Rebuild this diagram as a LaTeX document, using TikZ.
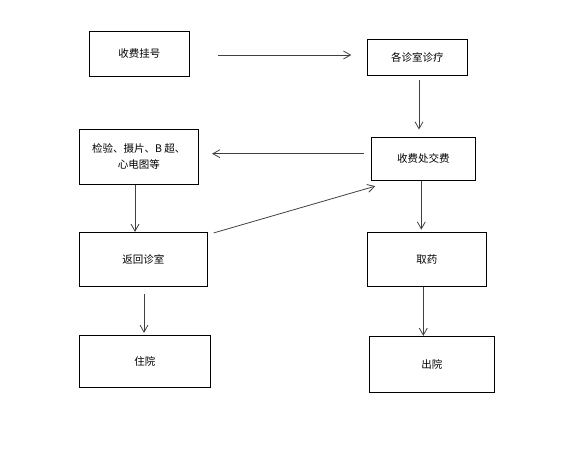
\documentclass[tikz,border=0pt]{standalone}
\usepackage{fontspec}
\newfontfamily\cjk{Noto Sans CJK SC}
\usetikzlibrary{arrows.meta}
\tikzset{
  stepbox/.style={draw=black, line width=0.9pt, inner sep=0pt, font=\cjk\fontsize{10.5}{16.4}\selectfont, align=center},
  arr/.style={draw=black!75, line width=0.8pt, -{Straight Barb[length=7pt,width=8pt]}}
}
\begin{document}
\begin{tikzpicture}[x=1pt,y=-1pt]
\useasboundingbox (0,0) rectangle (587,469);
\node[stepbox, minimum width=100pt, minimum height=45pt] (b1) at (139.3,53.8) {收费挂号};
\node[stepbox, minimum width=100pt, minimum height=36pt] (b2) at (417.3,57.3) {各诊室诊疗};
\node[stepbox, minimum width=119pt, minimum height=54.7pt] (b3) at (138.8,156.7) {检验、摄片、B 超、\\心电图等};
\node[stepbox, minimum width=104pt, minimum height=43pt] (b4) at (423.3,158.8) {收费处交费};
\node[stepbox, minimum width=128pt, minimum height=53.7pt] (b5) at (143.3,259.2) {返回诊室};
\node[stepbox, minimum width=119pt, minimum height=53.7pt] (b6) at (426.8,259.2) {取药};
\node[stepbox, minimum width=131pt, minimum height=52pt] (b7) at (144.8,361.3) {住院};
\node[stepbox, minimum width=125pt, minimum height=56pt] (b8) at (431.8,364.3) {出院};

\draw[arr] ([xshift=28.4pt,yshift=-1.2pt]b1.east) -- ([xshift=-15.6pt,yshift=2.3pt]b2.west);
\draw[arr] ([xshift=1.7pt,yshift=-4.7pt]b2.south) -- ([xshift=-4.3pt,yshift=7.3pt]b4.north);
\draw[arr] ([xshift=-7.3pt,yshift=5.1pt]b4.west) -- ([xshift=13.4pt,yshift=3pt]b3.east);
\draw[arr] ([xshift=-3.8pt]b3.south) -- ([xshift=-8.3pt]b5.north);
\draw[arr] ([xshift=6pt,yshift=-1pt]b5.north east) -- ([xshift=4.4pt,yshift=-5.4pt]b4.south west);
\draw[arr] ([xshift=-2pt]b4.south) -- ([xshift=-5.5pt,yshift=2.3pt]b6.north);
\draw[arr] ([xshift=0.7pt,yshift=-7.3pt]b5.south) -- ([xshift=-0.8pt,yshift=2pt]b7.north);
\draw[arr] ([xshift=-3.5pt]b6.south) -- ([xshift=-8.5pt]b8.north);
\end{tikzpicture}
\end{document}
